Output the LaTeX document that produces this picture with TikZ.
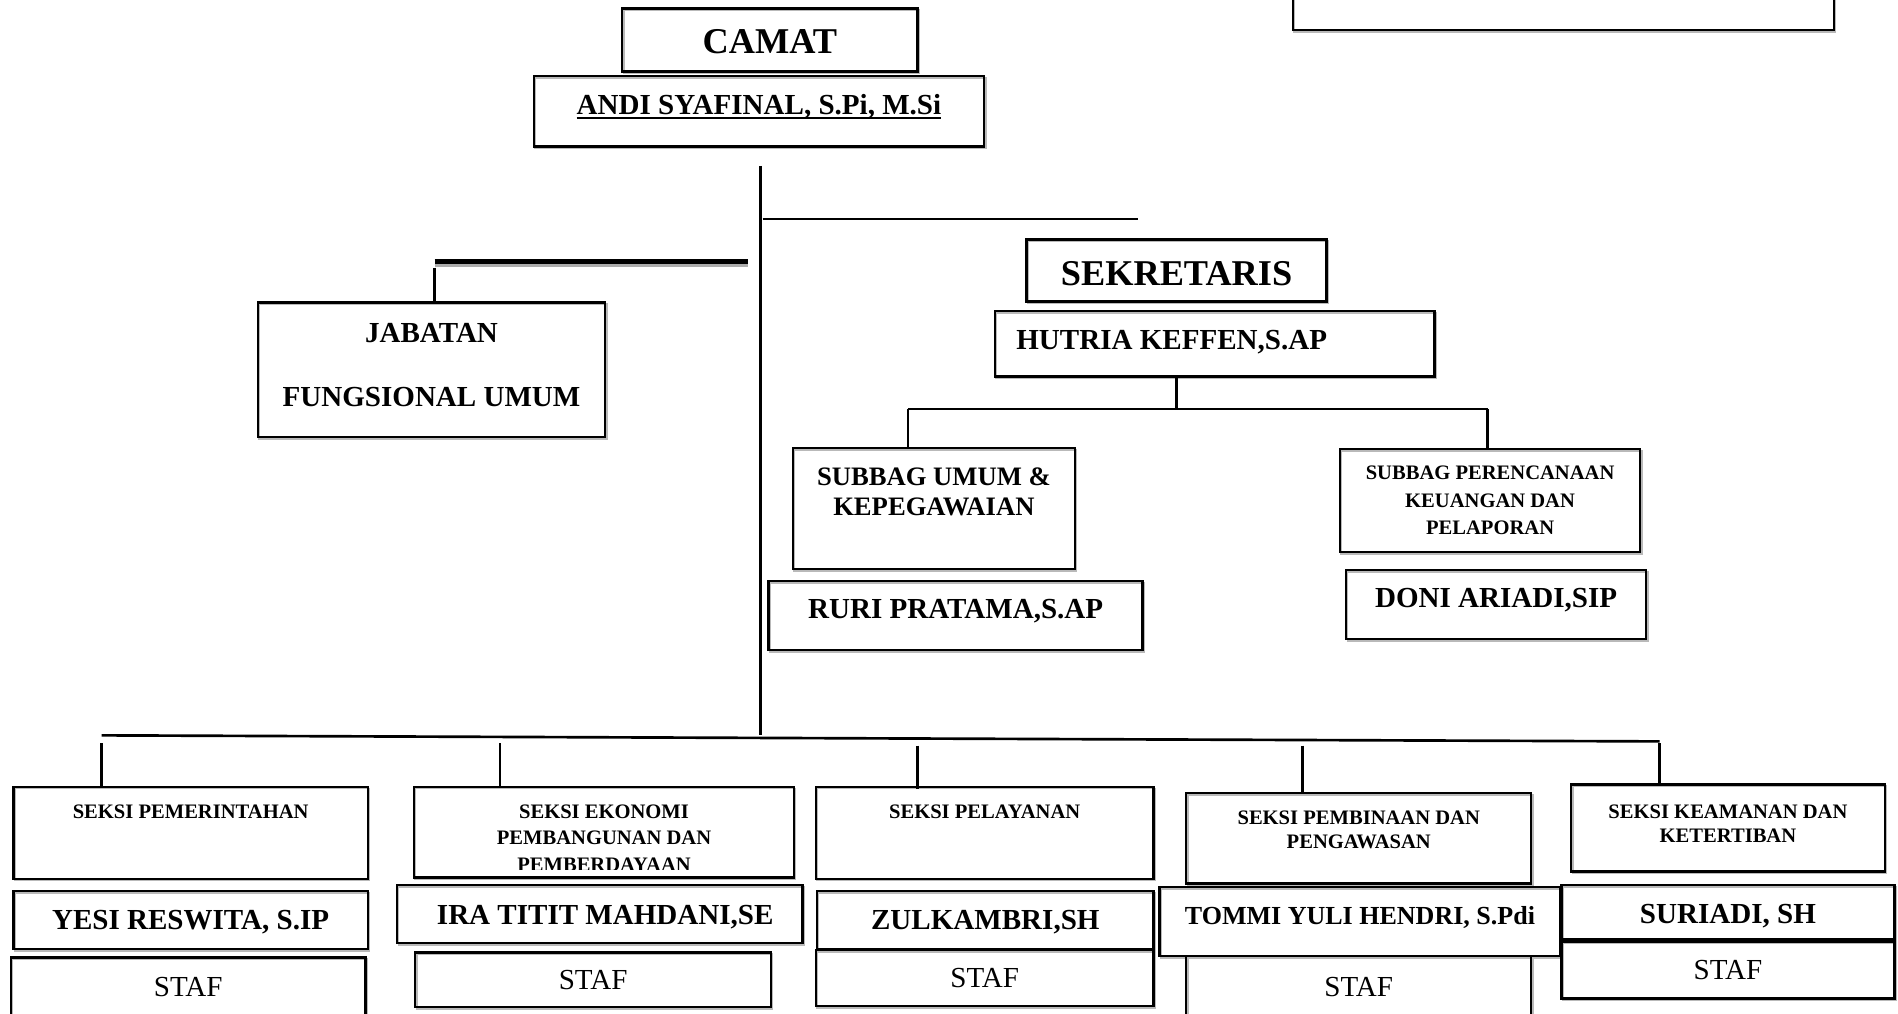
\documentclass[tikz,border=0pt]{standalone}
\usepackage{fontspec}
\setmainfont{Liberation Serif}
\usetikzlibrary{fit,calc}
\newcommand\myfs[2]{\fontsize{#1}{#2}\selectfont}
\newcommand\myul[1]{\setbox0\hbox{#1}\rlap{\rule[-3.2pt]{\wd0}{1.7pt}}\box0}
\begin{document}
\begin{tikzpicture}[x=1pt,y=-1pt,
  box/.style={draw, line width=2pt, inner sep=0pt,
    preaction={draw=gray!55, line width=1.6pt, transform canvas={shift={(1.2,1.4)}}}},
  ln/.style={line width=2.2pt},
  txt/.style={anchor=north, inner sep=0pt, align=center, font=\bfseries},
  staf/.style={anchor=north, inner sep=0pt, align=center, font=\myfs{24}{28}},
  ]
\useasboundingbox (0,0) rectangle (1568,837);
\fill[white] (0,0) rectangle (1568,837);

% ---------- top ----------
\node[box, fit={(1068,-5) (1515,25)}] (tr) {};
\node[box, fit={(514,7) (758,59)}] (camat) {};
\node[txt, font=\bfseries\myfs{30}{34}] (camat-t) at (camat.center |- 0,24) {CAMAT};
\node[box, fit={(441,63) (813,121)}] (andi) {};
\node[txt, font=\bfseries\myfs{24}{28}] (andi-t) at (andi.center |- 0,78) {\myul{ANDI SYAFINAL, S.Pi, M.Si}};

% main trunk
\coordinate (mtop) at (628,137);
\coordinate (mbot) at (628,607);
\draw[ln] (mtop) -- (mbot);

% line towards sekretaris
\coordinate (sl) at (630,181);
\coordinate (sr) at (940,181);
\draw[ln] (sl) -- (sr);

% thick line towards jabatan
\coordinate (jl) at (359,216);
\coordinate (jr) at (618,216);
\draw[gray!65, line width=2.6pt] ($(jl)+(0,3.4)$) -- ($(jr)+(0,3.4)$);
\draw[line width=4pt] (jl) -- (jr);

% jabatan fungsional
\node[box, fit={(213,250) (500,361)}] (jab) {};
\coordinate (jv) at (359,221);
\draw[ln] (jv) -- (jv |- jab.north);
\node[txt, font=\bfseries\myfs{24}{53}] (jab-t) at (jab.center |- 0,267) {JABATAN\\FUNGSIONAL UMUM};

% ---------- sekretaris ----------
\node[box, fit={(848,198) (1096,249)}] (sek) {};
\node[txt, font=\bfseries\myfs{30}{34}] (sek-t) at (sek.center |- 0,216) {SEKRETARIS};
\node[box, fit={(822,257) (1185,311)}] (hut) {};
\node[txt, font=\bfseries\myfs{24}{28}] (hut-t) at (968,273) {HUTRIA KEFFEN,S.AP};

\node[box, fit={(655,370) (888,470)}] (sbu) {};
\node[txt, font=\bfseries\myfs{22}{25}] (sbu-t) at (sbu.center |- 0,386) {SUBBAG UMUM \&\\KEPEGAWAIAN};
\node[box, fit={(1107,371) (1355,456)}] (sbp) {};
\node[txt, font=\bfseries\myfs{17}{23}] (sbp-t) at (sbp.center |- 0,384.5) {SUBBAG PERENCANAAN\\KEUANGAN DAN\\PELAPORAN};

\coordinate (hj) at (972,338);
\coordinate (ha) at (750,338);
\coordinate (hb) at (1229,338);
\draw[ln] (hj |- hut.south) -- (hj);
\draw[ln] (ha) -- (hb);
\draw[ln] (ha) -- (ha |- sbu.north);
\draw[ln] (hb) -- (hb |- sbp.north);

\node[box, fit={(635,480) (944,537)}] (ruri) {};
\node[txt, font=\bfseries\myfs{24}{28}] (ruri-t) at (ruri.center |- 0,495) {RURI PRATAMA,S.AP};
\node[box, fit={(1112,471) (1360,528)}] (doni) {};
\node[txt, font=\bfseries\myfs{24}{28}] (doni-t) at (doni.center |- 0,486) {DONI ARIADI,SIP};

% ---------- bottom bar ----------
\coordinate (bl) at (84,607.5);
\coordinate (br) at (1371,612.5);
\draw[ln] (bl) -- (br);

% seksi boxes
\node[box, fit={(11,650) (304,726)}] (s1) {};
\node[box, fit={(342,650) (656,725)}] (s2) {};
\node[box, fit={(674,650) (953,726)}] (s3) {};
\node[box, fit={(980,655) (1265,730)}] (s4) {};
\node[box, fit={(1298,648) (1557,720)}] (s5) {};

\coordinate (v1) at (84,614);
\coordinate (v2) at (413,614);
\coordinate (v3) at (758,616);
\coordinate (v4) at (1076,616);
\coordinate (v5) at (1371,614);
\draw[ln] (v1) -- (v1 |- s1.north);
\draw[ln] (v2) -- ($(v2 |- s2.north)+(0,2)$);
\draw[ln] (v3) -- ($(v3 |- s3.north)+(0,3)$);
\draw[ln] (v4) -- (v4 |- s4.north);
\draw[ln] (v5) -- (v5 |- s5.north);

\node[txt, font=\bfseries\myfs{17}{22}] (s1-t) at (s1.center |- 0,664.5) {SEKSI PEMERINTAHAN};
\begin{scope}
\clip (342,650) rectangle (656,718);
\node[txt, font=\bfseries\myfs{17}{22}] (s2-t) at (s2.center |- 0,664.5) {SEKSI EKONOMI\\PEMBANGUNAN DAN\\PEMBERDAYAAN};
\end{scope}
\node[txt, font=\bfseries\myfs{17}{22}] (s3-t) at (s3.center |- 0,664.5) {SEKSI PELAYANAN};
\node[txt, font=\bfseries\myfs{17}{20}] (s4-t) at (s4.center |- 0,669.5) {SEKSI PEMBINAAN DAN\\PENGAWASAN};
\node[txt, font=\bfseries\myfs{17}{20}] (s5-t) at (s5.center |- 0,664.5) {SEKSI KEAMANAN DAN\\KETERTIBAN};

% names
\node[box, fit={(11,736) (304,784)}] (n1) {};
\node[box, fit={(328,731) (663,779)}] (n2) {};
\node[box, fit={(675,736) (953,784)}] (n3) {};
\node[box, fit={(958,733) (1289,790)}] (n4) {};
\node[box, fit={(1290,731) (1565,776)}] (n5) {};
\node[txt, font=\bfseries\myfs{24}{28}] (n1-t) at (n1.center |- 0,752) {YESI RESWITA, S.IP};
\node[txt, font=\bfseries\myfs{24}{28}] (n2-t) at (500,748) {IRA TITIT MAHDANI,SE};
\node[txt, font=\bfseries\myfs{24}{28}] (n3-t) at (n3.center |- 0,752) {ZULKAMBRI,SH};
\node[txt, font=\bfseries\myfs{21.5}{26}] (n4-t) at (n4.center |- 0,749) {TOMMI YULI HENDRI, S.Pdi};
\node[txt, font=\bfseries\myfs{24}{28}] (n5-t) at (n5.center |- 0,747) {SURIADI, SH};

% staf
\node[box, fit={(9,791) (302,842)}] (st1) {};
\node[box, fit={(343,787) (637,832)}] (st2) {};
\node[box, fit={(674,785) (953,831)}] (st3) {};
\node[box, fit={(980,790) (1265,842)}] (st4) {};
\node[box, fit={(1290,778) (1565,825)}] (st5) {};
\node[staf] (st1-t) at (st1.center |- 0,807) {STAF};
\node[staf] (st2-t) at (st2.center |- 0,801) {STAF};
\node[staf] (st3-t) at (st3.center |- 0,800) {STAF};
\node[staf] (st4-t) at (st4.center |- 0,807) {STAF};
\node[staf] (st5-t) at (st5.center |- 0,793) {STAF};
\end{tikzpicture}
\end{document}
